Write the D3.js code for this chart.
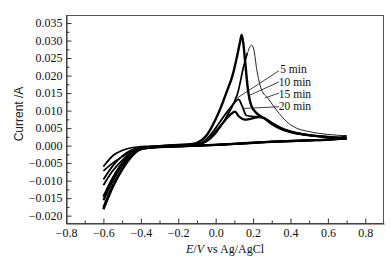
<!DOCTYPE html>
<html><head><meta charset="utf-8">
<script src="https://cdn.jsdelivr.net/npm/d3@7"></script>
<style>body{margin:0;background:#fff}svg{display:block}</style>
</head><body>
<svg id="c" width="391" height="259"></svg>
<script>
// ---- data ----
const xTicks = [-0.8,-0.6,-0.4,-0.2,0.0,0.2,0.4,0.6,0.8];
const xMinor = [-0.7,-0.5,-0.3,-0.1,0.1,0.3,0.5,0.7];
const yTicks = [-0.020,-0.015,-0.010,-0.005,0.000,0.005,0.010,0.015,0.020,0.025,0.030,0.035];
const yMinor = [-0.0175,-0.0125,-0.0075,-0.0025,0.0025,0.0075,0.0125,0.0175,0.0225,0.0275,0.0325];

// curve A (tallest peak)
const aFwdE = [-0.6,-0.55,-0.5,-0.45,-0.4,-0.3,-0.2,-0.15,-0.1,-0.05,0.0,0.03,0.06,0.09,0.112,0.13,0.139,0.148,0.156,0.174,0.19,0.22,0.26,0.3,0.35,0.4,0.5,0.6,0.7];
const aFwdI = [-0.0182,-0.0118,-0.0068,-0.0031,-0.0009,-0.0002,0.0002,0.0003,0.0008,0.0028,0.0075,0.0112,0.0155,0.0200,0.0249,0.0295,0.0316,0.0292,0.0249,0.0154,0.0115,0.0092,0.0078,0.0062,0.0048,0.0040,0.0030,0.0025,0.0022];
// curve B (shifted peak, thin tail)
const bFwdE = [-0.6,-0.55,-0.5,-0.45,-0.4,-0.3,-0.2,-0.1,-0.05,0.0,0.05,0.1,0.12,0.147,0.17,0.192,0.205,0.219,0.245,0.28,0.31,0.34,0.38,0.42,0.5,0.6,0.7];
const bFwdI = [-0.0060,-0.0029,-0.0014,-0.0006,-0.0003,-0.0001,0.0001,0.0004,0.0012,0.0035,0.0075,0.0125,0.0154,0.0220,0.0265,0.0287,0.0272,0.0220,0.0160,0.0135,0.0112,0.0092,0.0068,0.0053,0.0040,0.0032,0.0028];
// curve C
const cFwdE = [-0.6,-0.55,-0.5,-0.45,-0.4,-0.3,-0.2,-0.1,-0.05,0.0,0.05,0.09,0.123,0.14,0.165,0.2,0.236,0.27,0.31,0.343,0.4,0.5,0.6,0.7];
const cFwdI = [-0.0097,-0.0058,-0.0030,-0.0013,-0.0005,-0.0002,0.0001,0.0004,0.0018,0.0050,0.0088,0.0116,0.0132,0.0115,0.0086,0.0083,0.0082,0.0076,0.0060,0.0049,0.0038,0.0029,0.0024,0.0021];
// curve D
const dFwdE = [-0.6,-0.55,-0.5,-0.45,-0.4,-0.3,-0.2,-0.1,-0.05,0.0,0.05,0.08,0.103,0.125,0.156,0.19,0.23,0.26,0.3,0.35,0.4,0.5,0.6,0.7];
const dFwdI = [-0.0146,-0.0092,-0.0050,-0.0022,-0.0007,-0.0002,0.0001,0.0003,0.0012,0.0040,0.0072,0.0089,0.0097,0.0083,0.0074,0.0077,0.0081,0.0078,0.0065,0.0050,0.0040,0.0030,0.0024,0.0020];

// reverse sweeps
const revE = [0.7,0.65,0.6,0.5,0.4,0.3,0.2,0.1,0.0,-0.1,-0.2,-0.3,-0.35,-0.4,-0.45,-0.5,-0.55,-0.6];
const aRevI = [0.0022,0.0019,0.0017,0.0015,0.0013,0.0011,0.0008,0.0005,0.0002,0.0000,-0.0002,-0.0004,-0.0006,-0.0010,-0.0030,-0.0068,-0.0115,-0.0177];
const bRevI = [0.0028,0.0021,0.0018,0.0015,0.0013,0.0011,0.0008,0.0005,0.0002,0.0000,-0.0002,-0.0004,-0.0005,-0.0008,-0.0016,-0.0032,-0.0050,-0.0072];
const cRevI = [0.0021,0.0019,0.0017,0.0015,0.0013,0.0011,0.0008,0.0005,0.0002,0.0000,-0.0002,-0.0004,-0.0006,-0.0009,-0.0020,-0.0042,-0.0072,-0.0113];
const dRevI = [0.0020,0.0019,0.0017,0.0015,0.0013,0.0011,0.0008,0.0005,0.0002,0.0000,-0.0002,-0.0004,-0.0006,-0.0010,-0.0026,-0.0056,-0.0100,-0.0156];

// annotations
const labels = ["5 min","10 min","15 min","20 min"];
const labelE = [0.345,0.338,0.338,0.338];
const labelI = [0.0206,0.0171,0.0136,0.0101];
const leadFromE = [0.339,0.339,0.339,0.339];
const leadFromI = [0.0214,0.0182,0.0150,0.0111];
const leadToE = [0.112,0.183,0.263,0.147];
const leadToI = [0.0135,0.0144,0.0136,0.0106];

// ---- drawing ----
const svg = d3.select("#c");
const L = 66, R = 384, T = 15, B = 223;
const x = d3.scaleLinear().domain([-0.8,0.9]).range([L,R]);
const y = d3.scaleLinear().domain([-0.0221,0.0373]).range([B,T]);
const serif = "'Liberation Serif','Times New Roman',serif";
const axisCol = "#333";

// frame
svg.append("rect").attr("x",L+0.5).attr("y",T+0.5).attr("width",R-L-1).attr("height",B-T)
  .attr("fill","none").attr("stroke","#555").attr("stroke-width",1);

// x axis
const gx = svg.append("g").attr("transform",`translate(0,${B+0.5})`)
  .call(d3.axisBottom(x).tickValues(xTicks).tickSizeInner(-5).tickSizeOuter(0).tickPadding(5).tickFormat(d3.format(".1f")));
gx.select(".domain").attr("stroke",axisCol);
gx.selectAll(".tick line").attr("stroke",axisCol);
gx.selectAll("text").attr("font-family",serif).attr("font-size",12).attr("fill","#111");
const gx2 = svg.append("g").attr("transform",`translate(0,${B+0.5})`)
  .call(d3.axisBottom(x).tickValues(xMinor).tickSizeInner(-3).tickSizeOuter(0).tickFormat(""));
gx2.select(".domain").remove();
gx2.selectAll(".tick line").attr("stroke",axisCol);

// y axis
const gy = svg.append("g").attr("transform",`translate(${L+0.5},0)`)
  .call(d3.axisLeft(y).tickValues(yTicks).tickSizeInner(-5).tickSizeOuter(0).tickPadding(4).tickFormat(d3.format(".3f")));
gy.select(".domain").attr("stroke",axisCol);
gy.selectAll(".tick line").attr("stroke",axisCol);
gy.selectAll("text").attr("font-family",serif).attr("font-size",12).attr("fill","#111");
const gy2 = svg.append("g").attr("transform",`translate(${L+0.5},0)`)
  .call(d3.axisLeft(y).tickValues(yMinor).tickSizeInner(-3).tickSizeOuter(0).tickFormat(""));
gy2.select(".domain").remove();
gy2.selectAll(".tick line").attr("stroke",axisCol);

// axis titles
const xt = svg.append("text").attr("x",(L+R)/2).attr("y",253).attr("text-anchor","middle")
  .attr("font-family",serif).attr("font-size",12).attr("fill","#111");
xt.append("tspan").attr("font-style","italic").text("E");
xt.append("tspan").text("/");
xt.append("tspan").attr("font-style","italic").text("V");
xt.append("tspan").text(" vs Ag/AgCl");
svg.append("text").attr("transform","translate(23,114) rotate(-90)").attr("text-anchor","middle")
  .attr("font-family","'Liberation Sans',Arial,sans-serif").attr("font-size",12).attr("fill","#222")
  .text("Current /A");

// curves
const line = d3.line().x(d=>x(d[0])).y(d=>y(d[1])).curve(d3.curveMonotoneX);
const curves = [
  {fe:aFwdE, fi:aFwdI, ri:aRevI, w:2.4, tw:2.4, split:1},
  {fe:dFwdE, fi:dFwdI, ri:dRevI, w:2.2, tw:2.2, split:1},
  {fe:cFwdE, fi:cFwdI, ri:cRevI, w:1.8, tw:1.8, split:1},
  {fe:bFwdE, fi:bFwdI, ri:bRevI, w:1.7, tw:1.0, split:0.17}
];
const gc = svg.append("g");
curves.forEach(cv=>{
  const fwd = cv.fe.map((e,i)=>[e,cv.fi[i]]);
  const rev = revE.map((e,i)=>[e,cv.ri[i]]);
  const head = fwd.filter(d=>d[0]<=cv.split);
  const tail = fwd.filter(d=>d[0]>=cv.split);
  gc.append("path").attr("d",line(head)).attr("fill","none").attr("stroke","#000")
    .attr("stroke-width",cv.w).attr("stroke-linejoin","round");
  if (tail.length>1) {
    const cid = "clip"+Math.round(cv.split*1000);
    svg.append("clipPath").attr("id",cid).append("rect")
      .attr("x",x(cv.split)).attr("y",0).attr("width",R-x(cv.split)).attr("height",B);
    gc.append("path").attr("d",line(fwd)).attr("fill","none").attr("stroke","#222")
      .attr("stroke-width",cv.tw).attr("clip-path",`url(#${cid})`);
  }
  gc.append("path").attr("d",line(rev)).attr("fill","none").attr("stroke","#000")
    .attr("stroke-width",cv.w).attr("stroke-linejoin","round");
});

// leaders and labels
labels.forEach((t,i)=>{
  svg.append("line").attr("x1",x(leadFromE[i])).attr("y1",y(leadFromI[i]))
    .attr("x2",x(leadToE[i])).attr("y2",y(leadToI[i])).attr("stroke","#111").attr("stroke-width",0.8);
  svg.append("text").attr("x",x(labelE[i])).attr("y",y(labelI[i]))
    .attr("font-family",serif).attr("font-size",11.5).attr("fill","#111").text(t);
});
</script>
</body></html>
